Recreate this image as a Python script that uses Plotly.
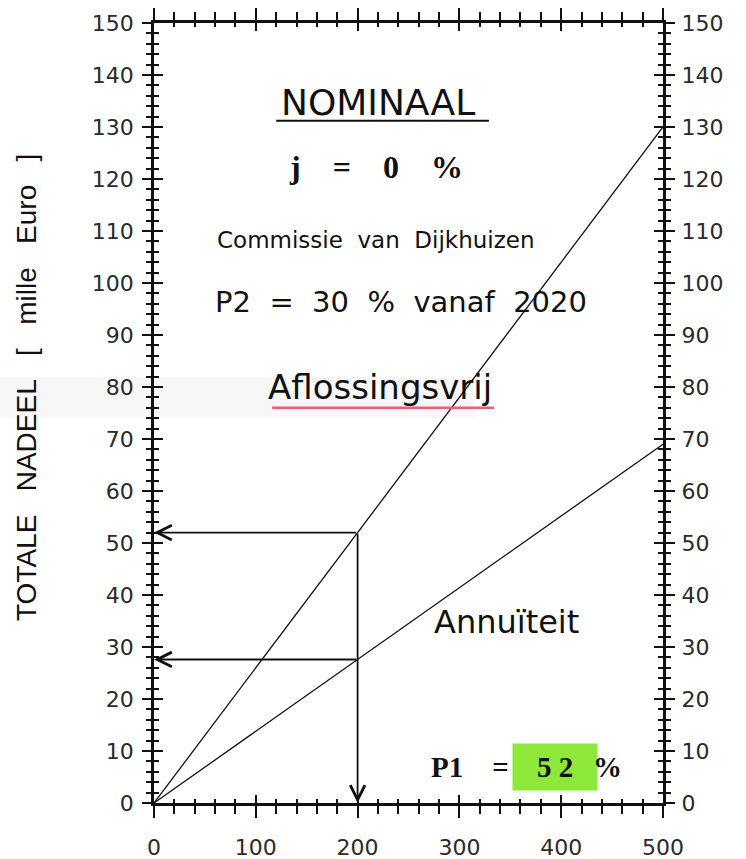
import plotly.graph_objects as go

# Hypotheekbedrag (duizend euro) and total disadvantage for both loan types
loan = [0, 500]
aflossingsvrij = [0, 130]
annuiteit = [0, 69]

# Read-off example at a 200k mortgage
read_x = 200
read_aflossingsvrij = 52
read_annuiteit = 27.6

x_ticks = [0, 100, 200, 300, 400, 500]
y_ticks = list(range(0, 151, 10))

SANS = "DejaVu Sans"
SERIF = "Liberation Serif"
INK = "#111111"
TICKFONT = dict(family=SANS, size=22, color="#2a2a2a")

fig = go.Figure()

fig.add_trace(go.Scatter(x=loan, y=aflossingsvrij, mode="lines",
                         line=dict(color=INK, width=1.3), hoverinfo="skip"))
fig.add_trace(go.Scatter(x=loan, y=annuiteit, mode="lines",
                         line=dict(color=INK, width=1.3), hoverinfo="skip"))
# empty traces so the overlay axes (inner ticks, right labels) are drawn
fig.add_trace(go.Scatter(x=[], y=[], xaxis="x2", yaxis="y2", hoverinfo="skip"))
fig.add_trace(go.Scatter(x=[], y=[], xaxis="x", yaxis="y3", hoverinfo="skip"))

base = dict(showgrid=False, zeroline=False, tickcolor=INK, automargin=False)
framed = dict(showline=True, linecolor=INK, linewidth=2.5, **base)
bare = dict(showline=False, **base)

fig.update_layout(
    width=746, height=859,
    margin=dict(l=154, r=83, t=23, b=56),
    paper_bgcolor="white", plot_bgcolor="white",
    showlegend=False,
    xaxis=dict(range=[0, 500], tickvals=x_ticks, ticks="outside", ticklen=12,
               tickwidth=2, mirror="ticks",
               minor=dict(dtick=20, ticks="outside", ticklen=8, tickwidth=1.5,
                          tickcolor=INK),
               tickfont=TICKFONT, ticklabelstandoff=11, **framed),
    xaxis2=dict(range=[0, 500], overlaying="x", tickvals=x_ticks, ticks="inside",
                ticklen=8, tickwidth=2, mirror="ticks", showticklabels=False,
                minor=dict(dtick=20, ticks="inside", ticklen=4, tickwidth=1.5,
                           tickcolor=INK), **bare),
    yaxis=dict(range=[0, 150], tickvals=y_ticks, ticks="outside", ticklen=9,
               tickwidth=2, mirror="ticks",
               minor=dict(dtick=2, ticks="outside", ticklen=5, tickwidth=1.5,
                          tickcolor=INK),
               tickfont=TICKFONT, ticklabelstandoff=4, **framed),
    yaxis2=dict(range=[0, 150], overlaying="y", tickvals=y_ticks, ticks="inside",
                ticklen=9, tickwidth=2, mirror="ticks", showticklabels=False,
                minor=dict(dtick=2, ticks="inside", ticklen=5, tickwidth=1.5,
                           tickcolor=INK), **bare),
    yaxis3=dict(range=[0, 150], overlaying="y", side="right", tickvals=y_ticks,
                ticks="outside", ticklen=9, tickwidth=2,
                tickfont=TICKFONT, ticklabelstandoff=4, **bare),
)

# faint band behind the loan-type heading
fig.add_shape(type="rect", xref="paper", yref="paper",
              x0=-0.31, x1=0.63, y0=(803 - 418) / 780, y1=(803 - 377) / 780,
              fillcolor="#f7f7f7", line_width=0, layer="below")

# read-off arrows: from the lines to the left axis, and down to the x axis
arrow = dict(showarrow=True, arrowhead=5, arrowwidth=1.8, arrowsize=1.6,
             arrowcolor=INK, text="", xref="x", yref="y", axref="x", ayref="y",
             standoff=0)
for yv in (read_aflossingsvrij, read_annuiteit):
    fig.add_annotation(x=0, y=yv, ax=read_x, ay=yv, **arrow)
fig.add_annotation(x=read_x, y=0, ax=read_x, ay=read_aflossingsvrij, **arrow)

nb = "\u00a0"


def label(x, y, text, size, family=SANS, bold=False, **kw):
    fig.add_annotation(x=x, y=y, xref="x", yref="y", text=text, showarrow=False,
                       font=dict(family=family, size=size, color=INK,
                                 weight="bold" if bold else "normal"), **kw)


label(220, 134.8, "NOMINAAL", 36)
fig.add_shape(type="line", xref="x", yref="y", x0=120, x1=329, y0=131.2, y1=131.2,
              line=dict(color=INK, width=2))
label(218, 122.3, f"j{nb*4}={nb*4}0{nb*4}%", 32, family=SERIF, bold=True)
label(218, 108.3, f"Commissie{nb*2}van{nb*2}Dijkhuizen", 23)
label(243, 96.3, f"P2{nb*2}={nb*2}30{nb*2}%{nb*2}vanaf{nb*2}2020", 29)
label(222, 80.0, "Aflossingsvrij", 34)
fig.add_shape(type="line", xref="x", yref="y", x0=116, x1=334, y0=76, y1=76,
              line=dict(color="#e8607a", width=2.5))
label(346, 34.8, "Annuïteit", 32)

# P1 read-off with highlighted value
label(351, 7.0, f"P1{nb*4}=", 29, family=SERIF, bold=True, xanchor="right")
label(394, 7.0, f"{read_aflossingsvrij:.0f}".replace("", " ").strip(),
      29, family=SERIF, bold=True, bgcolor="#8de83a", width=82, height=44)
label(445, 7.0, "%", 29, family=SERIF, bold=True)

# y-axis title
fig.add_annotation(xref="paper", yref="paper", x=(26 - 154) / 509, y=(803 - 388) / 780,
                   xanchor="center", yanchor="middle",
                   text=f"TOTALE{nb*3}NADEEL{nb*3}[{nb*3}mille{nb*3}Euro{nb*3}]",
                   textangle=-90, showarrow=False,
                   font=dict(family="Liberation Sans", size=28, color=INK))

fig.write_html("out.html")
